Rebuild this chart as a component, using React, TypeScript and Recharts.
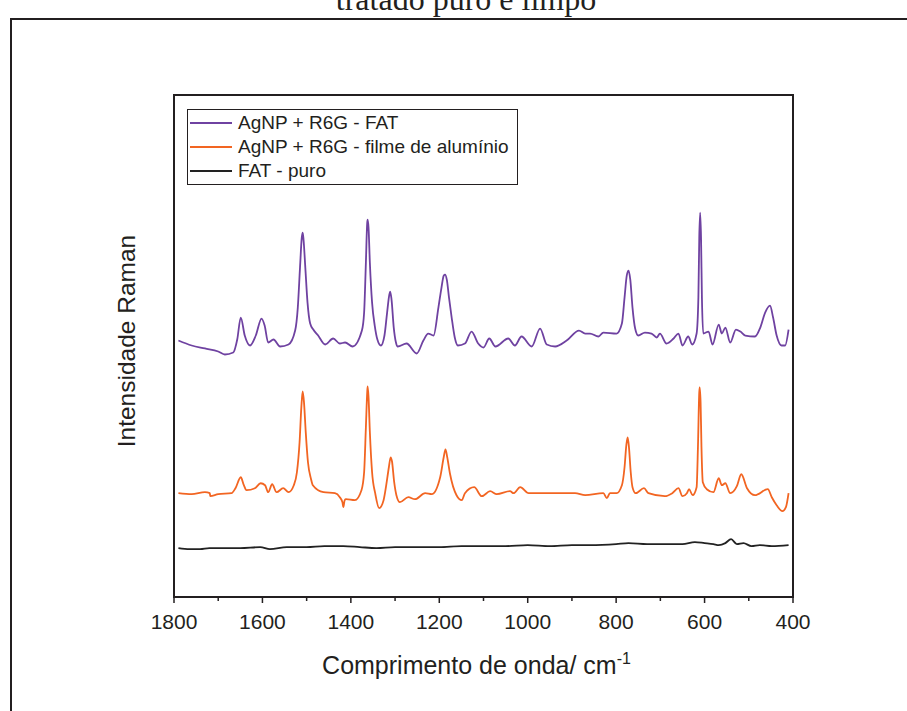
import React from 'react';
import { LineChart, Line, XAxis, YAxis, ReferenceArea, Legend } from 'recharts';

// Raman spectra (wavenumber in cm-1, intensity in arbitrary units)
const fatWn = [
  1790, 1760, 1730, 1700, 1685, 1666, 1657, 1649, 1640, 1628, 1615, 1602, 1595, 1587, 1575, 1560,
  1541, 1526, 1520, 1515, 1511, 1509, 1507, 1503, 1498, 1492, 1485, 1474, 1458, 1440, 1425, 1413,
  1396, 1375, 1370, 1366, 1363, 1362, 1360, 1357, 1352, 1346, 1340, 1332, 1324, 1318, 1313, 1311,
  1308, 1303, 1298, 1294, 1274, 1251, 1236, 1225, 1213, 1202, 1195, 1190, 1187, 1183, 1178, 1172,
  1165, 1158, 1142, 1127, 1112, 1100, 1087, 1073, 1044, 1029, 1014, 991, 972, 957, 938, 912, 884,
  870, 859, 840, 829, 799, 787, 781, 776, 772, 768, 763, 757, 750, 735, 720, 708, 701, 686, 670,
  659, 650, 637, 628, 618, 614, 612, 610, 608, 606, 603, 591, 582, 568, 561, 553, 542, 529, 519,
  508, 486, 474, 463, 452, 445, 437, 426, 418, 410,
];
const fatInt = [
  257, 252, 249, 246, 243, 245, 258, 280, 262, 252, 262, 279, 272, 255, 258, 251,
  253, 267, 290, 330, 360, 365, 358, 330, 295, 274, 268, 262, 253, 259, 254, 255,
  251, 267, 285, 335, 375, 378, 370, 335, 295, 272, 258, 252, 262, 285, 303, 306,
  298, 270, 255, 251, 254, 244, 257, 264, 262, 290, 310, 322, 323, 318, 300, 280,
  260, 252, 254, 266, 254, 250, 259, 251, 259, 252, 261, 251, 269, 253, 251, 257, 267,
  264, 264, 261, 265, 264, 274, 300, 322, 327, 318, 290, 269, 262, 265, 264, 260, 264, 254, 259,
  264, 252, 261, 253, 264, 300, 360, 385, 360, 300, 264, 266, 253, 273, 264, 270, 255, 268, 266,
  262, 261, 270, 285, 292, 280, 262, 252, 252, 268,
];

const aluWn = [
  1790, 1760, 1730, 1719, 1718, 1700, 1670, 1661, 1649, 1642, 1636, 1617, 1604, 1594, 1587, 1578,
  1568, 1553, 1541, 1529, 1522, 1516, 1512, 1509, 1506, 1502, 1497, 1490, 1486, 1462, 1436, 1425,
  1419, 1417, 1414, 1411, 1391, 1376, 1370, 1366, 1363, 1362, 1360, 1357, 1352, 1345, 1336, 1326,
  1320, 1314, 1310, 1307, 1302, 1297, 1289, 1270, 1255, 1232, 1217, 1198, 1190, 1186, 1182, 1176,
  1161, 1149, 1142, 1121, 1104, 1085, 1070, 1040, 1032, 1017, 998, 953, 923, 893, 870, 829, 821,
  814, 799, 787, 781, 777, 774, 771, 767, 763, 756, 737, 727, 690, 673, 659, 650, 640, 635, 627,
  618, 615, 612, 611, 609, 607, 604, 595, 580, 568, 561, 553, 542, 527, 517, 504, 486, 457, 448,
  437, 424, 416, 410,
];
const aluInt = [
  104, 103, 105, 104, 101, 103, 104, 109, 120, 112, 107, 109, 114, 112, 105, 113,
  105, 109, 105, 112, 125, 155, 190, 206, 195, 165, 135, 118, 112, 105, 104, 100,
  95, 90, 97, 98, 97, 107, 125, 170, 205, 211, 200, 165, 125, 104, 89, 97,
  112, 130, 140, 136, 115, 102, 95, 100, 98, 104, 103, 120, 140, 148, 140, 124,
  102, 97, 104, 110, 101, 106, 103, 106, 104, 110, 104, 104, 104, 104, 102, 104, 99,
  104, 104, 112, 130, 152, 160, 150, 125, 110, 104, 109, 104, 101, 104, 109, 101, 104, 108, 102,
  110, 150, 205, 210, 195, 150, 115, 108, 105, 119, 112, 114, 104, 111, 123, 109, 102, 108, 100,
  92, 86, 90, 104,
];

const pureWn = [
  1790, 1765, 1741, 1720, 1696, 1650, 1605, 1583, 1545, 1500, 1460, 1417, 1380, 1342, 1300, 1250,
  1200, 1150, 1100, 1050, 1000, 950, 900, 859, 800, 772, 730, 690, 650, 622, 600, 580, 568, 553,
  540, 527, 512, 494, 475, 448, 410,
];
const pureInt = [
  49, 48, 48, 49, 49, 49, 50, 48, 50, 50, 51, 51, 50, 49, 50, 50,
  50, 51, 51, 51, 52, 51, 52, 52, 53, 54, 53, 53, 53, 55, 54, 53, 52, 54,
  58, 53, 54, 51, 52, 51, 52,
];

const xTicks = [1800, 1700, 1600, 1500, 1400, 1300, 1200, 1100, 1000, 900, 800, 700, 600, 500, 400];

const toPoints = (wn: number[], val: number[]) => wn.map((x, i) => ({ x, y: val[i] }));
const fatData = toPoints(fatWn, fatInt);
const aluData = toPoints(aluWn, aluInt);
const pureData = toPoints(pureWn, pureInt);

const FONT = 'Arial, "Liberation Sans", Helvetica, sans-serif';
const INK = '#231f20';

function XTick({ x, y, payload }: any) {
  const major = payload.value % 200 === 0;
  return (
    <g>
      <line x1={x} x2={x} y1={y} y2={y + (major ? 6 : 4)} stroke={INK} strokeWidth={1.5} />
      {major && (
        <text x={x} y={y + 32} textAnchor="middle" fontSize={21} fill={INK} fontFamily={FONT}>
          {payload.value}
        </text>
      )}
    </g>
  );
}

function XTitle({ viewBox }: any) {
  const cx = viewBox.x + viewBox.width / 2 - 7;
  return (
    <text x={cx} y={viewBox.y + 77} textAnchor="middle" fontSize={25} fill={INK} fontFamily={FONT}>
      Comprimento de onda/ cm<tspan dy={-10} fontSize={16}>-1</tspan>
    </text>
  );
}

function LegendBox({ payload }: any) {
  return (
    <div style={{ border: `1px solid ${INK}`, padding: '1px 8px 1px 2px', background: '#fff', fontFamily: FONT }}>
      {(payload || []).map((entry: any) => (
        <div key={entry.value} style={{ display: 'flex', alignItems: 'center', height: 24, fontSize: 19, color: INK }}>
          <span style={{ display: 'inline-block', width: 42, height: 2, background: entry.color, marginRight: 6 }} />
          {entry.value}
        </div>
      ))}
    </div>
  );
}

export default function App() {
  return (
    <div style={{ position: 'absolute', left: 0, top: 0, width: 907, height: 711, overflow: 'hidden', background: '#fff' }}>
      <svg width={907} height={711} style={{ position: 'absolute', left: 0, top: 0 }}>
        <text x={466} y={10} textAnchor="middle" fontSize={32} fill={INK} fontFamily='"Liberation Serif", "Times New Roman", serif'>
          tratado puro e limpo
        </text>
        <path d="M11 711 V19 H907" fill="none" stroke={INK} strokeWidth={2} />
        <text x={126} y={341} transform="rotate(-90 126 341)" textAnchor="middle" dominantBaseline="central"
          fontSize={24.5} fill={INK} fontFamily={FONT}>
          Intensidade Raman
        </text>
      </svg>
      <div style={{ position: 'absolute', left: 0, top: 0 }}>
        <LineChart width={907} height={711} margin={{ top: 95, right: 114, bottom: 54, left: 174 }}>
          <XAxis
            dataKey="x"
            type="number"
            domain={[400, 1800]}
            reversed
            ticks={xTicks}
            interval={0}
            height={60}
            tickSize={0}
            tickMargin={0}
            axisLine={false}
            tickLine={false}
            tick={<XTick />}
            label={<XTitle />}
          />
          <YAxis type="number" domain={[0, 503]} allowDataOverflow hide />
          <ReferenceArea x1={1800} x2={400} y1={0} y2={503} fill="none" stroke={INK} strokeWidth={2} />
          <Line data={fatData} dataKey="y" name="AgNP + R6G - FAT" type="monotone" stroke="#6f42a1" strokeWidth={1.8} dot={false} isAnimationActive={false} />
          <Line data={aluData} dataKey="y" name="AgNP + R6G - filme de alumínio" type="monotone" stroke="#f26522" strokeWidth={1.8} dot={false} isAnimationActive={false} />
          <Line data={pureData} dataKey="y" name="FAT - puro" type="monotone" stroke="#222222" strokeWidth={1.8} dot={false} isAnimationActive={false} />
          <Legend
            layout="vertical"
            align="center"
            verticalAlign="middle"
            content={<LegendBox />}
            wrapperStyle={{ position: 'absolute', left: 187, top: 109, width: 'auto', height: 'auto' }}
          />
        </LineChart>
      </div>
    </div>
  );
}
